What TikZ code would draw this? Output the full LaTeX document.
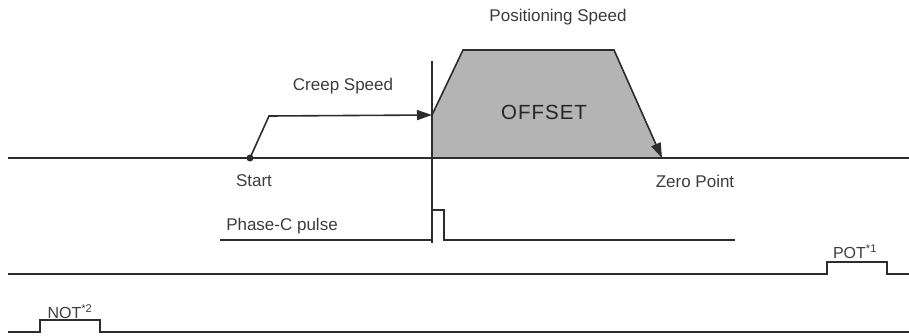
\documentclass[tikz,border=0pt]{standalone}
\usepackage{fontspec}
\setmainfont{Liberation Sans}
\usepackage{tikz}
\usetikzlibrary{arrows.meta}
\definecolor{LineGrey}{RGB}{45,45,45}
\definecolor{TextGrey}{RGB}{60,60,60}
\definecolor{OffsetGrey}{RGB}{180,180,180}
\tikzset{
  sig/.style={line width=1.6pt, LineGrey, line join=miter},
  speedarr/.style={sig, -{Triangle[length=15pt,width=10pt]}},
  lbl/.style={font=\fontsize{17}{20}\selectfont, text=TextGrey, inner sep=0pt},
  biglbl/.style={font=\fontsize{20.5}{24}\selectfont, text=black!85, inner sep=0pt},
}

\begin{document}
\begin{tikzpicture}[x=1pt, y=-1pt]
  \useasboundingbox (0,0) rectangle (909,335);

  % speed profile corners
  \coordinate (start) at (250,158);
  \coordinate (creeptop) at (269,116);
  \coordinate (cedge) at (432,115);
  \coordinate (acctop) at (463,50);
  \coordinate (dectop) at (614,50);
  \coordinate (zero) at (662,158);

  % offset area under positioning speed
  \fill[OffsetGrey] (432,158) -- (cedge) -- (acctop) -- (dectop) -- (zero) -- cycle;

  % position axis and phase-C marker
  \draw[sig] (8,158) -- (909,158);
  \draw[sig, line width=1.3pt] (432,61) -- (432,243);

  % creep then positioning speed
  \draw[speedarr] (start) -- (creeptop) -- (cedge);
  \draw[speedarr] (cedge) -- (acctop) -- (dectop) -- (zero);
  \fill[LineGrey] (start) circle (3.5);

  % phase-C pulse
  \draw[sig] (220,240) -- (432,240) -- (432,210) -- (444,210) -- (444,240) -- (735,240);

  % limit switch signals
  \foreach \y/\a/\b in {274/827/887, 332/40/100} {
    \draw[sig] (8,\y) -- (\a,\y) -- (\a,\y-12) -- (\b,\y-12) -- (\b,\y) -- (909,\y);
  }

  \node[lbl] (creeplbl) at (343,86) {Creep Speed};
  \node[lbl] (poslbl) at (558,17) {Positioning Speed};
  \node[biglbl] (offsetlbl) at (544,112.5) {O\kern1ptF\kern1ptF\kern1ptS\kern1ptE\kern1ptT};
  \node[lbl] (startlbl) at (254,181) {Start};
  \node[lbl] (zerolbl) at (695,181) {Zero Point};
  \node[lbl] (phaselbl) at (282,226) {Phase-C pulse};
  \node[lbl, font=\fontsize{16}{19}\selectfont] (potlbl) at (855,252) {POT\textsuperscript{*1}};
  \node[lbl, font=\fontsize{16}{19}\selectfont] (notlbl) at (70,312) {NOT\textsuperscript{*2}};
\end{tikzpicture}
\end{document}
